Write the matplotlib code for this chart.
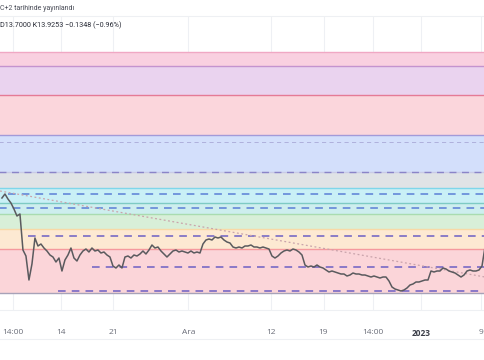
import numpy as np
import matplotlib
matplotlib.use("Agg")
import matplotlib.pyplot as plt
from matplotlib.lines import Line2D

# ---- data ----
# time axis in days relative to 1 Dec 2022 (one bar every 0.4 day)
start_day = -24.87
bar_step = 0.4
close = [14.43, 14.47, 14.42, 14.38, 14.32, 14.25, 14.27, 13.91, 13.85, 13.61,
         13.77, 14.03, 13.95, 13.97, 13.93, 13.90, 13.86, 13.84, 13.79, 13.83,
         13.70, 13.81, 13.86, 13.93, 13.83, 13.80, 13.86, 13.90, 13.92, 13.89,
         13.93, 13.90, 13.91, 13.88, 13.89, 13.86, 13.84, 13.75, 13.73, 13.76,
         13.73, 13.84, 13.85, 13.83, 13.86, 13.85, 13.87, 13.90, 13.87, 13.91,
         13.96, 13.93, 13.94, 13.90, 13.87, 13.84, 13.87, 13.90, 13.91, 13.89,
         13.90, 13.89, 13.88, 13.90, 13.88, 13.89, 13.88, 13.97, 14.01, 14.02,
         14.01, 14.04, 14.03, 14.04, 14.01, 13.99, 13.98, 13.94, 13.93, 13.94,
         13.93, 13.95, 13.95, 13.96, 13.94, 13.94, 13.93, 13.94, 13.93, 13.92,
         13.85, 13.83, 13.85, 13.88, 13.90, 13.91, 13.90, 13.92, 13.91, 13.89,
         13.86, 13.76, 13.74, 13.75, 13.74, 13.76, 13.74, 13.73, 13.71, 13.69,
         13.70, 13.69, 13.68, 13.67, 13.67, 13.65, 13.66, 13.68, 13.67, 13.67,
         13.66, 13.66, 13.65, 13.64, 13.65, 13.64, 13.63, 13.64, 13.64, 13.60,
         13.54, 13.52, 13.51, 13.50, 13.51, 13.53, 13.56, 13.57, 13.59, 13.59,
         13.60, 13.61, 13.61, 13.70, 13.69, 13.70, 13.70, 13.73, 13.72, 13.70,
         13.69, 13.68, 13.66, 13.64, 13.66, 13.70, 13.71, 13.70, 13.70, 13.71,
         13.75, 13.94]

# zone boundaries (price), top to bottom, with fill colours
zone_levels = [15.89, 15.75, 15.46, 15.06, 14.69, 14.53, 14.38, 14.27, 14.12, 13.92, 13.48]
zone_fills = ['#f9d0e0', '#ead3ef', '#fbd6dc', '#d3dffb', '#e0e3e6',
              '#c9f0f6', '#cdeeee', '#d8efd8', '#fde9d2', '#fbd5d9']
zone_lines = ['#f0a8c4', '#c493cf', '#e57a96', '#a39ad8', '#c9cbe6',
              '#7fd6ea', '#7ecbc4', '#a9dcb0', '#f8d9a6', '#f59a9e', '#a7a2b8']

# dashed levels: price, start day, colour, width
dash_levels = [14.99, 14.69, 14.47, 14.33, 14.05, 13.74, 13.50]
dash_starts = [-25.2, -25.2, -24.0, -25.2, -21.4, -12.9, -17.4]
dash_colors = ['#a9a9d6', '#8a84c8', '#5b7fd6', '#5b7fd6', '#6c5fc4', '#6c5fc4', '#6c5fc4']
dash_widths = [0.6, 1.0, 1.1, 1.1, 1.1, 1.1, 1.1]

# dotted trend line
trend_days = [-25.13, 39.53]
trend_vals = [14.50, 13.64]

tick_days = [-23.4, -17, -10, 0, 11, 18, 24.6, 31, 39]
tick_labels = ['14:00', '14', '21', 'Ara', '12', '19', '14:00', '2023', '9']

header1 = 'C+2 tarihinde yayınlandı'
header2 = 'D13.7000 K13.9253 −0.1348 (−0.96%)'

# ---- figure ----
W, H = 485, 360
fig = plt.figure(figsize=(W / 100, H / 100), dpi=100)
fig.patch.set_facecolor('white')
ax = fig.add_axes([0, (H - 310) / H, 1, (310 - 16) / H])
ax.set_facecolor('white')
ax.set_xlim(-25.13, 39.53)
ax.set_ylim(13.31, 16.25)

# vertical grid
for d in tick_days:
    ax.axvline(d, color='#eef0f4', lw=0.8, zorder=0)

# zones
for i in range(len(zone_fills)):
    ax.axhspan(zone_levels[i + 1], zone_levels[i], color=zone_fills[i], lw=0, zorder=1)
for lv, c in zip(zone_levels, zone_lines):
    ax.axhline(lv, color=c, lw=1.0, zorder=2)

# dashed levels
for lv, s, c, w in zip(dash_levels, dash_starts, dash_colors, dash_widths):
    ax.plot([s, 39.53], [lv, lv], color=c, lw=w, ls=(0, (5, 4)), zorder=3)

# trend
ax.plot(trend_days, trend_vals, color='#c9a3ab', lw=0.9, ls=(0, (1.5, 2)), zorder=3)

# price
days = start_day + bar_step * np.arange(len(close))
ax.plot(days, close, color='#5a5a5e', lw=1.1, zorder=4)

for s in ax.spines.values():
    s.set_visible(False)
ax.set_yticks([])
ax.set_xticks(tick_days)
ax.set_xticklabels(tick_labels, fontsize=6, color='#6a6d78', family='Open Sans')
ax.tick_params(axis='x', length=0, pad=14)
ax.get_xticklabels()[7].set_fontweight('bold')
ax.get_xticklabels()[7].set_color('#3a3d48')

# separators
fig.add_artist(Line2D([0, 1], [(H - 16) / H, (H - 16) / H], color='#eef0f3', lw=0.8))
fig.add_artist(Line2D([0, 1], [(H - 310) / H, (H - 310) / H], color='#eef0f3', lw=0.8))
fig.add_artist(Line2D([0, 1], [(H - 339) / H, (H - 339) / H], color='#eef0f3', lw=0.8))

fig.text(0.5 / W, 1 - 9 / H, header1, fontsize=5.0, color='#4a4d58', va='center', ha='left',
         family='Roboto')
fig.text(0.5 / W, 1 - 25 / H, header2, fontsize=5.2, color='#2a2d38', va='center', ha='left',
         family='Roboto')

fig.savefig('out.png', dpi=100)
